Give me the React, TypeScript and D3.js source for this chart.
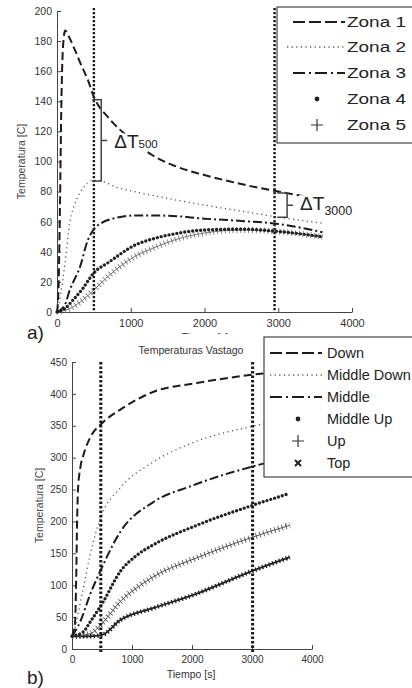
import React, { useEffect, useRef } from "react";
import * as d3 from "d3";

// ---------- Data: figure a) ----------
const ticksAx = [0, 1000, 2000, 3000, 4000];
const ticksAy = [0, 20, 40, 60, 80, 100, 120, 140, 160, 180, 200];
const zonaLabels = ["Zona 1", "Zona 2", "Zona 3", "Zona 4", "Zona 5"];
const zona1T = [0, 20, 40, 60, 80, 110, 160, 244, 320, 420, 500, 700, 1000, 1300, 1600, 2000, 2500, 3000, 3600];
const zona1V = [0, 15, 70, 140, 175, 187, 183, 174, 165, 154, 143, 129, 115, 104, 97, 91, 85, 80, 75];
const zona2T = [0, 50, 110, 176, 244, 350, 475, 600, 800, 1000, 1500, 2000, 2500, 3000, 3600];
const zona2V = [0, 12, 33, 60, 72, 82, 87.5, 87, 83, 80.5, 75.5, 71, 67, 63, 59];
const zona3T = [0, 100, 176, 312, 420, 500, 600, 800, 1060, 1500, 2000, 2500, 3000, 3600];
const zona3V = [0, 4, 15, 30, 48, 55, 59, 62.5, 64.2, 64, 62, 60.5, 58.5, 53];
const zona4T = [0, 100, 217, 340, 500, 700, 1060, 1330, 1600, 2000, 2500, 3000, 3600];
const zona4V = [0, 2, 8, 15, 26, 33, 44.5, 49, 52, 54.5, 55, 53.5, 50];
const zona5T = [0, 100, 200, 350, 500, 700, 1060, 1330, 1600, 2000, 2500, 3000, 3600];
const zona5V = [0, 1, 3, 8, 14.6, 24, 37, 43, 48, 52.5, 54.5, 53.5, 50];
const vlinesA = [500, 2950];
const bracketT = [600, 3120];
const bracketHi = [141, 79];
const bracketLo = [87, 63];
const bracketSub = ["500", "3000"];

// ---------- Data: figure b) ----------
const ticksBx = [0, 1000, 2000, 3000, 4000];
const ticksBy = [0, 50, 100, 150, 200, 250, 300, 350, 400, 450];
const vastagoLabels = ["Down", "Middle Down", "Middle", "Middle Up", "Up", "Top"];
const downT = [0, 50, 70, 85, 100, 140, 190, 300, 500, 800, 1350, 2080, 3000, 3600];
const downV = [20, 40, 110, 200, 250, 285, 304, 331, 354, 375, 403, 417, 430, 436];
const midDownT = [0, 80, 133, 190, 300, 495, 800, 1350, 2000, 3000, 3600];
const midDownV = [20, 45, 70, 96, 147, 210, 252, 293, 323, 349, 360];
const middleT = [0, 133, 300, 495, 800, 1350, 2000, 3080, 3600];
const middleV = [20, 42, 85, 127, 183, 230, 256, 288, 300];
const midUpT = [0, 190, 300, 520, 800, 1080, 1350, 2080, 3000, 3630];
const midUpV = [20, 27, 42, 74, 121, 147, 163, 194, 225, 244];
const upT = [0, 300, 520, 800, 1080, 1350, 2080, 2967, 3630];
const upV = [20, 24, 42, 74, 96, 113, 143, 174, 194];
const topT = [0, 300, 500, 800, 1350, 2000, 2967, 3630];
const topV = [20, 20, 22, 45, 64, 84, 121, 144];
const vlinesB = [480, 3010];

const FONT = "'Liberation Sans', Arial, sans-serif";

type Kind = "dash" | "dot" | "dashdot" | "dots" | "plus" | "cross";

function styleLine(sel: any, kind: Kind, color: string, legend = false) {
  sel.attr("fill", "none");
  if (kind === "dash") sel.attr("stroke", "#1c1c1c").attr("stroke-width", 2).attr("stroke-dasharray", legend ? "12,4" : "8,4");
  if (kind === "dot") sel.attr("stroke", "#555").attr("stroke-width", 1.3).attr("stroke-dasharray", "1.2,3.4");
  if (kind === "dashdot") sel.attr("stroke", "#1c1c1c").attr("stroke-width", 2).attr("stroke-dasharray", legend ? "12,4,2,4" : "9,3,2,3");
  return sel;
}

function drawSeries(g: any, x: any, y: any, t: number[], v: number[], kind: Kind, color: string) {
  const line = d3
    .line<number>()
    .x((_, i) => x(t[i]))
    .y((d) => y(d))
    .curve(d3.curveMonotoneX);
  const d = line(v);
  if (kind === "dash" || kind === "dot" || kind === "dashdot") {
    styleLine(g.append("path").attr("d", d), kind, color);
  } else if (kind === "dots") {
    g.append("path").attr("d", d).attr("fill", "none").attr("stroke", color)
      .attr("stroke-width", 3.4).attr("stroke-linecap", "round").attr("stroke-dasharray", "0,4");
  } else if (kind === "plus") {
    g.append("path").attr("d", d).attr("fill", "none").attr("stroke", color).attr("stroke-width", 1);
    g.append("path").attr("d", d).attr("fill", "none").attr("stroke", color)
      .attr("stroke-width", 6).attr("stroke-dasharray", "0.9,3");
  } else if (kind === "cross") {
    g.append("path").attr("d", d).attr("fill", "none").attr("stroke", color).attr("stroke-width", 1.8);
    g.append("path").attr("d", d).attr("fill", "none").attr("stroke", color)
      .attr("stroke-width", 4.5).attr("stroke-dasharray", "1.3,2.3");
  }
}

function legendMarker(g: any, kind: Kind, cx: number, cy: number, x0: number, x1: number, color: string) {
  if (kind === "dash" || kind === "dot" || kind === "dashdot") {
    styleLine(g.append("line").attr("x1", x0).attr("x2", x1).attr("y1", cy).attr("y2", cy), kind, color, true);
  } else if (kind === "dots") {
    g.append("circle").attr("cx", cx).attr("cy", cy).attr("r", 2.4).attr("fill", "#222");
  } else if (kind === "plus") {
    g.append("path").attr("d", `M${cx - 6},${cy}H${cx + 6}M${cx},${cy - 6}V${cy + 6}`).attr("stroke", "#333").attr("stroke-width", 1.2);
  } else if (kind === "cross") {
    g.append("path").attr("d", `M${cx - 3},${cy - 3}L${cx + 3},${cy + 3}M${cx - 3},${cy + 3}L${cx + 3},${cy - 3}`)
      .attr("stroke", "#222").attr("stroke-width", 2);
  }
}

function styleAxis(ax: any, size: number) {
  ax.selectAll("path,line").attr("stroke", "#444").attr("stroke-width", 1);
  ax.selectAll("text").attr("font-family", FONT).attr("font-size", size).attr("fill", "#333");
}

export default function App() {
  const ref = useRef<SVGSVGElement>(null);
  useEffect(() => {
    const svg = d3.select(ref.current);
    svg.selectAll("*").remove();
    svg.append("rect").attr("width", 412).attr("height", 688).attr("fill", "#fff");

    // ================= Figure a =================
    const xA = d3.scaleLinear().domain([0, 4000]).range([57, 352]);
    const yA = d3.scaleLinear().domain([0, 200]).range([312, 11]);
    const gA = svg.append("g");

    // x label of figure a, mostly hidden under figure b
    gA.append("text").attr("x", 205).attr("y", 340.5).attr("text-anchor", "middle")
      .attr("font-family", FONT).attr("font-size", 10).attr("fill", "#333").text("Tiempo [s]");

    const axAx = gA.append("g").attr("transform", `translate(0,${yA(0)})`)
      .call(d3.axisBottom(xA).tickValues(ticksAx).tickFormat(d3.format("d")).tickSizeInner(-4).tickSizeOuter(0).tickPadding(7));
    styleAxis(axAx, 11);
    const axAy = gA.append("g").attr("transform", `translate(${xA(0)},0)`)
      .call(d3.axisLeft(yA).tickValues(ticksAy).tickFormat(d3.format("d")).tickSizeInner(-4).tickSizeOuter(0).tickPadding(5));
    styleAxis(axAy, 10.5);

    gA.append("text").attr("transform", `translate(25,${(yA(0) + yA(200)) / 2}) rotate(-90)`)
      .attr("text-anchor", "middle").attr("font-family", FONT).attr("font-size", 10.5).attr("fill", "#444")
      .text("Temperatura [C]");

    const kindsA: Kind[] = ["dash", "dot", "dashdot", "dots", "plus"];
    const seriesA: [number[], number[]][] = [[zona1T, zona1V], [zona2T, zona2V], [zona3T, zona3V], [zona4T, zona4V], [zona5T, zona5V]];
    const colorsA = ["#1c1c1c", "#555", "#1c1c1c", "#222", "#777"];
    [4, 3, 2, 1, 0].forEach((i) => drawSeries(gA, xA, yA, seriesA[i][0], seriesA[i][1], kindsA[i], colorsA[i]));

    vlinesA.forEach((t) => {
      gA.append("line").attr("x1", xA(t)).attr("x2", xA(t)).attr("y1", 8).attr("y2", yA(0))
        .attr("stroke", "#1a1a1a").attr("stroke-width", 2.4).attr("stroke-dasharray", "2.2,1.8");
    });

    // brackets + labels
    bracketT.forEach((t, i) => {
      const bx = xA(t);
      const y1 = yA(bracketHi[i]);
      const y2 = yA(bracketLo[i]);
      const ym = (y1 + y2) / 2;
      const left = i === 0 ? 9 : 10;
      gA.append("path").attr("d", `M${bx - left},${y1}H${bx}V${y2}H${bx - left}M${bx},${ym}H${bx + 6}`)
        .attr("fill", "none").attr("stroke", "#444").attr("stroke-width", 1.5);
      const tx = bx + 13;
      const base = i === 0 ? ym + 8 : ym + 5;
      const w = i === 0 ? 47 : 55;
      gA.append("rect").attr("x", tx - 1).attr("y", base - 15).attr("width", w).attr("height", i === 0 ? 17 : 19).attr("fill", "#fff");
      const tt = gA.append("text").attr("x", tx).attr("y", base).attr("font-family", FONT).attr("fill", "#222");
      tt.append("tspan").attr("font-size", 19).text("ΔT");
      tt.append("tspan").attr("font-size", i === 0 ? 11.5 : 12.5).attr("dy", i === 0 ? 0 : 5).text(bracketSub[i]);
    });

    // legend a
    const lgA = gA.append("g");
    lgA.append("rect").attr("x", 277).attr("y", 7).attr("width", 150).attr("height", 136)
      .attr("fill", "#fff").attr("stroke", "#444").attr("stroke-width", 1.2);
    const legYA = [22, 47, 73, 99, 125];
    zonaLabels.forEach((lab, i) => {
      legendMarker(lgA, kindsA[i], 317, legYA[i], i === 1 ? 287 : 293, 345, colorsA[i]);
      lgA.append("text").attr("x", 347).attr("y", legYA[i] + 5).attr("font-family", FONT).attr("font-size", 14)
        .attr("fill", "#222").attr("textLength", 59).attr("lengthAdjust", "spacingAndGlyphs").text(lab);
    });

    // ================= Figure b =================
    svg.append("rect").attr("x", 0).attr("y", 334).attr("width", 412).attr("height", 354).attr("fill", "#fff");
    svg.append("text").attr("x", 27).attr("y", 339).attr("font-family", FONT).attr("font-size", 19).attr("fill", "#222").text("a)");

    const xB = d3.scaleLinear().domain([0, 4000]).range([72, 312]);
    const yB = d3.scaleLinear().domain([0, 450]).range([649, 362]);
    const gB = svg.append("g");

    gB.append("text").attr("x", 191).attr("y", 354).attr("text-anchor", "middle")
      .attr("font-family", FONT).attr("font-size", 10.5).attr("fill", "#333").text("Temperaturas Vastago");

    const axBx = gB.append("g").attr("transform", `translate(0,${yB(0)})`)
      .call(d3.axisBottom(xB).tickValues(ticksBx).tickFormat(d3.format("d")).tickSizeInner(-4).tickSizeOuter(0).tickPadding(7));
    styleAxis(axBx, 10);
    const axBy = gB.append("g").attr("transform", `translate(${xB(0)},0)`)
      .call(d3.axisLeft(yB).tickValues(ticksBy).tickFormat(d3.format("d")).tickSizeInner(-4).tickSizeOuter(0).tickPadding(5));
    styleAxis(axBy, 10);

    gB.append("text").attr("x", 191).attr("y", 678).attr("text-anchor", "middle")
      .attr("font-family", FONT).attr("font-size", 10.5).attr("fill", "#333").text("Tiempo [s]");
    gB.append("text").attr("transform", `translate(43,${(yB(0) + yB(450)) / 2}) rotate(-90)`)
      .attr("text-anchor", "middle").attr("font-family", FONT).attr("font-size", 10.5).attr("fill", "#444")
      .text("Temperatura [C]");

    const kindsB: Kind[] = ["dash", "dot", "dashdot", "dots", "plus", "cross"];
    const seriesB: [number[], number[]][] = [[downT, downV], [midDownT, midDownV], [middleT, middleV], [midUpT, midUpV], [upT, upV], [topT, topV]];
    const colorsB = ["#1c1c1c", "#555", "#1c1c1c", "#222", "#555", "#222"];
    [5, 4, 3, 2, 1, 0].forEach((i) => drawSeries(gB, xB, yB, seriesB[i][0], seriesB[i][1], kindsB[i], colorsB[i]));

    vlinesB.forEach((t) => {
      gB.append("line").attr("x1", xB(t)).attr("x2", xB(t)).attr("y1", yB(450)).attr("y2", yB(0) + 3)
        .attr("stroke", "#1a1a1a").attr("stroke-width", 3).attr("stroke-dasharray", "2.5,2");
    });

    const lgB = gB.append("g");
    lgB.append("rect").attr("x", 264).attr("y", 337).attr("width", 160).attr("height", 140)
      .attr("fill", "#fff").attr("stroke", "#444").attr("stroke-width", 1.2);
    const legYB = [353, 375, 397, 419, 441, 463];
    vastagoLabels.forEach((lab, i) => {
      legendMarker(lgB, kindsB[i], 298, legYB[i], 270, 322, colorsB[i]);
      lgB.append("text").attr("x", 327).attr("y", legYB[i] + 5).attr("font-family", FONT).attr("font-size", 14.5)
        .attr("fill", "#222").text(lab);
    });

    svg.append("text").attr("x", 27).attr("y", 684).attr("font-family", FONT).attr("font-size", 19).attr("fill", "#222").text("b)");
  }, []);
  return (
    <svg ref={ref} width={412} height={688} style={{ position: "absolute", left: 0, top: 0, background: "#fff" }} />
  );
}
